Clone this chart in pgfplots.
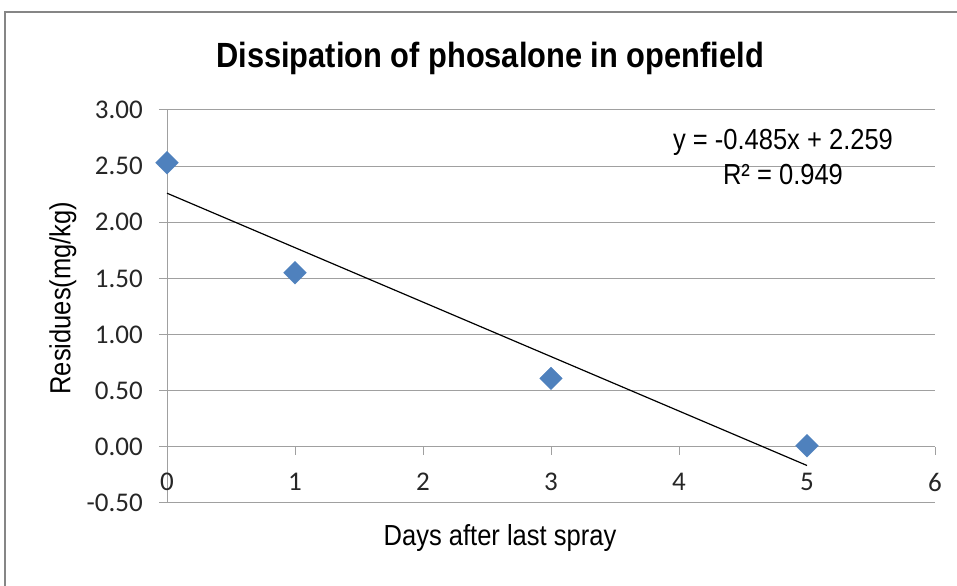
\documentclass[border=0pt]{standalone}
\usepackage{fontspec}
\usepackage{pgfplots}
\pgfplotsset{compat=1.18}
\setmainfont{Liberation Sans}[FakeStretch=0.88]
\newfontfamily\tickfont{Carlito}
\definecolor{gridgray}{RGB}{160,160,160}
\definecolor{markblue}{RGB}{79,129,189}
\definecolor{bordergray}{RGB}{134,134,134}
\begin{document}
\begin{tikzpicture}
\path[use as bounding box] (0bp,0bp) rectangle (957bp,586bp);
\draw[bordergray, line width=2bp] (5bp,-5bp) -- (5bp,574bp) -- (962bp,574bp);
\begin{axis}[
  at={(167bp,83bp)}, anchor=south west, scale only axis,
  width=768bp, height=393bp,
  xmin=0, xmax=6, ymin=-0.5, ymax=3,
  axis x line*=bottom, axis y line*=left,
  axis line style={gridgray, line width=1bp, -},
  xtick={0,1,2,3,4,5,6},
  ytick={-0.5,0,0.5,1,1.5,2,2.5,3},
  ymajorgrids, grid style={gridgray, line width=1bp},
  tick align=outside, major tick length=8bp,
  xtick style={draw=none},
  ytick style={gridgray, line width=1bp},
  /pgf/number format/assume math mode=true,
  ticklabel style={font=\tickfont\fontsize{27bp}{31bp}\selectfont, text=black!85},
  yticklabel style={/pgf/number format/fixed, /pgf/number format/fixed zerofill, /pgf/number format/precision=2, anchor=east, inner sep=0pt, xshift=-16bp},
  xticklabel style={anchor=center, inner sep=0pt, yshift=29bp},
  clip=false,
]
\draw[gridgray, line width=1bp] (axis cs:0,0) -- (axis cs:6,0);
\pgfplotsinvokeforeach{1,2,3,4,5,6}{\draw[gridgray, line width=1bp] (axis cs:#1,0) -- ++(0bp,-8bp);}
\addplot[black, line width=1.2bp] coordinates {(0,2.259) (5,-0.166)};
\addplot[only marks, mark=square*, mark size=8bp, mark options={rotate=45, fill=markblue, draw=markblue}] coordinates {(0,2.53) (1,1.55) (3,0.61) (5,0.01)};
\end{axis}
\node[font=\bfseries\fontsize{35bp}{40bp}\selectfont] at (490bp,528bp) {Dissipation of phosalone in openfield};
\node[rotate=90, font=\fontsize{29bp}{34bp}\selectfont] at (63bp,288bp) {Residues(mg/kg)};
\node[font=\fontsize{29bp}{34bp}\selectfont] at (500bp,48bp) {Days after last spray};
\node[anchor=base, font=\fontsize{29bp}{34bp}\selectfont] at (783bp,436bp) {y = -0.485x + 2.259};
\node[anchor=base, font=\fontsize{29bp}{34bp}\selectfont] at (783bp,401bp) {R² = 0.949};
\end{tikzpicture}
\end{document}
